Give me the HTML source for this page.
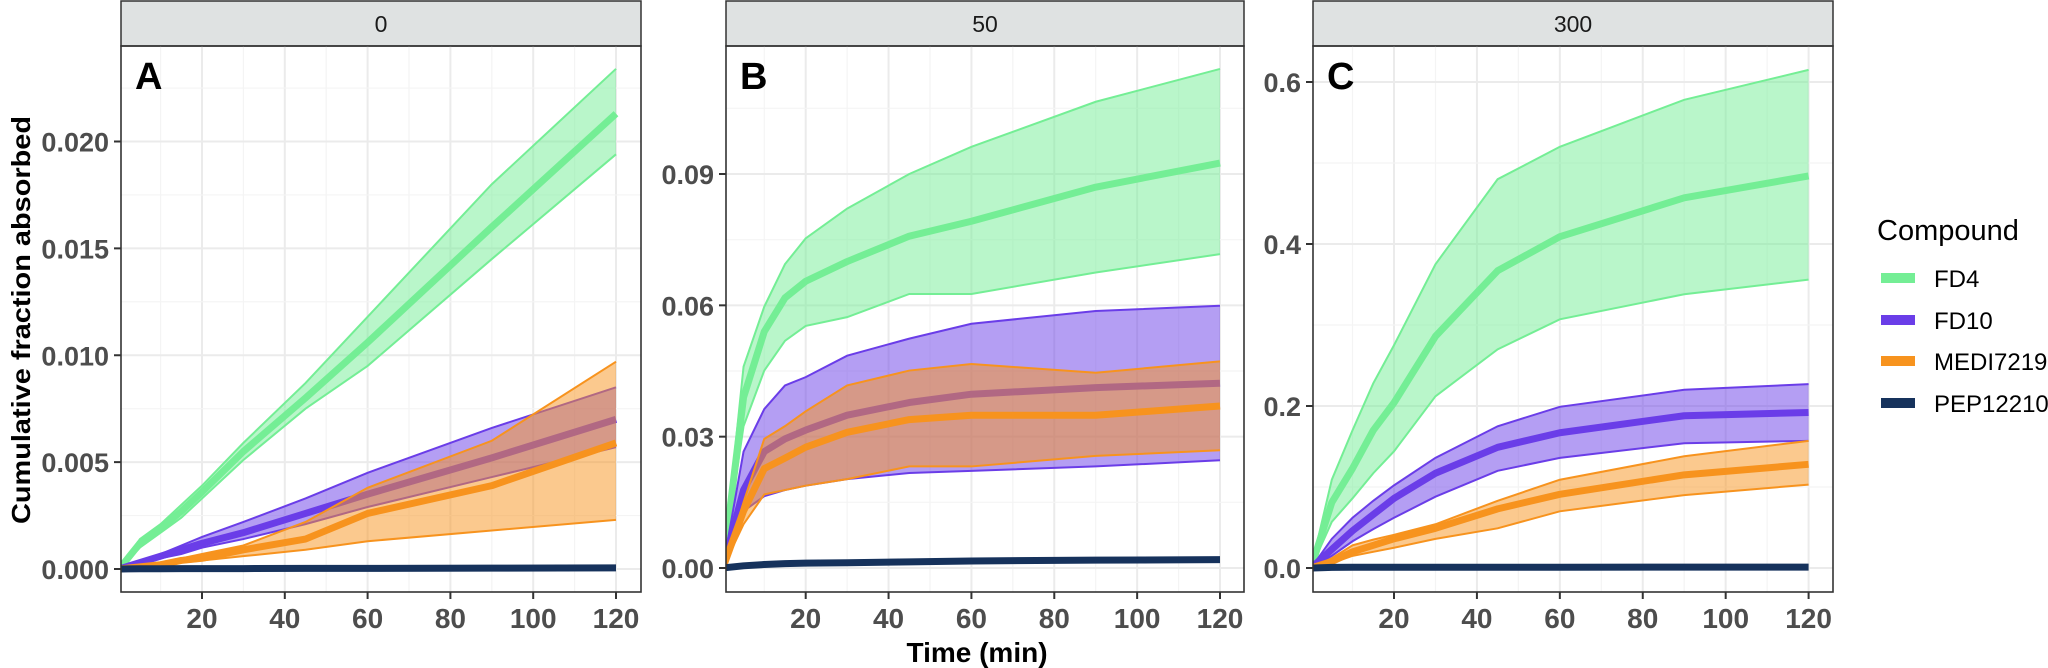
<!DOCTYPE html>
<html><head><meta charset="utf-8">
<style>
html,body{margin:0;padding:0;background:#fff;}
svg{display:block;font-family:"Liberation Sans",Arial,sans-serif;}
</style></head>
<body>
<svg id="chart" width="2048" height="668" viewBox="0 0 2048 668" xmlns="http://www.w3.org/2000/svg">
  <text transform="translate(30,320) rotate(-90)" text-anchor="middle" font-size="26" font-weight="bold" fill="#000" textLength="408" lengthAdjust="spacingAndGlyphs">Cumulative fraction absorbed</text>
  <text x="977" y="662" text-anchor="middle" font-size="28" font-weight="bold" fill="#000">Time (min)</text>
  <g>
    <text x="1877" y="240" font-size="29" fill="#000">Compound</text>
    <rect x="1881" y="273" width="34" height="10" fill="#74ee95"/>
    <text x="1934" y="287" font-size="24" fill="#000">FD4</text>
    <rect x="1881" y="315" width="34" height="10" fill="#6a3de8"/>
    <text x="1934" y="329" font-size="24" fill="#000">FD10</text>
    <rect x="1881" y="356" width="34" height="10" fill="#f7931e"/>
    <text x="1934" y="370" font-size="24" fill="#000">MEDI7219</text>
    <rect x="1881" y="398" width="34" height="10" fill="#16325c"/>
    <text x="1934" y="412" font-size="24" fill="#000">PEP12210</text>
  </g>
</svg>
<script>
const times = [0,5,10,15,20,30,45,60,90,120];
const xTicks = [20,40,60,80,100,120];
const stripLabels = ["0","50","300"];
const panelLetters = ["A","B","C"];
const yTicksA = [0,0.005,0.010,0.015,0.020];
const yTickLabelsA = ["0.000","0.005","0.010","0.015","0.020"];
const yTicksB = [0,0.03,0.06,0.09];
const yTickLabelsB = ["0.00","0.03","0.06","0.09"];
const yTicksC = [0,0.2,0.4,0.6];
const yTickLabelsC = ["0.0","0.2","0.4","0.6"];

// Panel A (dose 0)
const aFD4Mean = [0,0.0012,0.0019,0.0027,0.0036,0.0055,0.0080,0.0106,0.0160,0.0213];
const aFD4Hi   = [0,0.0014,0.0021,0.0030,0.0039,0.0059,0.0087,0.0118,0.0180,0.0234];
const aFD4Lo   = [0,0.0010,0.0017,0.0024,0.0033,0.0051,0.0075,0.0095,0.0145,0.0194];
const aFD10Mean= [0,0.0003,0.0006,0.0009,0.0012,0.0017,0.0026,0.0035,0.0052,0.0070];
const aFD10Hi  = [0,0.0004,0.0007,0.0011,0.0015,0.0022,0.0033,0.0045,0.0066,0.0085];
const aFD10Lo  = [0,0.0002,0.0005,0.0007,0.0010,0.0014,0.0021,0.0029,0.0043,0.0057];
const aMEDIMean= [0,0.0001,0.0002,0.0004,0.0005,0.0009,0.0014,0.0026,0.0039,0.0059];
const aMEDIHi  = [0,0.0001,0.0003,0.0005,0.0007,0.0011,0.0022,0.0038,0.0060,0.0097];
const aMEDILo  = [0,0.0001,0.0002,0.0003,0.0004,0.0006,0.0009,0.0013,0.0018,0.0023];
const aPEPMean = [0,0.00001,0.00001,0.00002,0.00002,0.00002,0.00003,0.00003,0.00004,0.00005];

// Panel B (dose 50)
const bFD4Mean = [0,0.039,0.054,0.0617,0.0655,0.070,0.0758,0.0792,0.087,0.0925];
const bFD4Hi   = [0,0.046,0.0597,0.0694,0.0753,0.0821,0.090,0.0962,0.1065,0.114];
const bFD4Lo   = [0,0.0324,0.0451,0.0519,0.0553,0.0573,0.0626,0.0626,0.0675,0.0717];
const bFD10Mean= [0,0.0178,0.0266,0.0295,0.0315,0.0349,0.0378,0.0397,0.0412,0.0422];
const bFD10Hi  = [0,0.0266,0.0363,0.0417,0.0436,0.0485,0.0524,0.0558,0.0587,0.0599];
const bFD10Lo  = [0,0.013,0.0164,0.0178,0.0188,0.0203,0.0217,0.0222,0.0232,0.0246];
const bMEDIMean= [0,0.013,0.0227,0.0251,0.0276,0.031,0.0339,0.0349,0.0349,0.037];
const bMEDIHi  = [0,0.015,0.0295,0.0324,0.0358,0.0417,0.0451,0.0466,0.0446,0.0472];
const bMEDILo  = [0,0.010,0.0168,0.0178,0.0188,0.0203,0.0232,0.0232,0.0256,0.0269];
const bPEPMean = [0,0.0005,0.0008,0.0010,0.0011,0.0012,0.0014,0.0016,0.0018,0.0019];

// Panel C (dose 300)
const cFD4Mean = [0,0.081,0.123,0.17,0.204,0.286,0.367,0.409,0.457,0.484];
const cFD4Hi   = [0,0.109,0.17,0.228,0.275,0.375,0.48,0.52,0.578,0.615];
const cFD4Lo   = [0,0.057,0.086,0.117,0.144,0.212,0.27,0.307,0.338,0.356];
const cFD10Mean= [0,0.023,0.046,0.066,0.086,0.117,0.149,0.167,0.188,0.192];
const cFD10Hi  = [0,0.036,0.062,0.083,0.102,0.136,0.175,0.199,0.22,0.227];
const cFD10Lo  = [0,0.015,0.033,0.048,0.062,0.088,0.12,0.136,0.154,0.157];
const cMEDIMean= [0,0.008,0.02,0.028,0.036,0.049,0.073,0.091,0.115,0.128];
const cMEDIHi  = [0,0.012,0.028,0.035,0.041,0.054,0.083,0.109,0.138,0.157];
const cMEDILo  = [0,0.006,0.015,0.02,0.025,0.036,0.049,0.07,0.09,0.103];
const cPEPMean = [0,0.0008,0.0009,0.001,0.001,0.001,0.001,0.001,0.0011,0.0011];

const NS = "http://www.w3.org/2000/svg";
const svg = document.getElementById("chart");
function mk(tag, attrs, parent){
  const e = document.createElementNS(NS, tag);
  for (const k in attrs) e.setAttribute(k, attrs[k]);
  (parent||svg).appendChild(e);
  return e;
}
const colors = {FD4:"#74ee95", FD10:"#6a3de8", MEDI:"#f7931e", PEP:"#16325c"};
const panels = [
  {left:121, right:641, x20:202, x120:616, y0:569, yTop:0.020, yTopPx:141.5, ticks:yTicksA, labels:yTickLabelsA,
   series:[["FD4",aFD4Mean,aFD4Hi,aFD4Lo],["FD10",aFD10Mean,aFD10Hi,aFD10Lo],["MEDI",aMEDIMean,aMEDIHi,aMEDILo],["PEP",aPEPMean,null,null]]},
  {left:726, right:1244, x20:805.7, x120:1220, y0:568, yTop:0.09, yTopPx:174, ticks:yTicksB, labels:yTickLabelsB,
   series:[["FD4",bFD4Mean,bFD4Hi,bFD4Lo],["FD10",bFD10Mean,bFD10Hi,bFD10Lo],["MEDI",bMEDIMean,bMEDIHi,bMEDILo],["PEP",bPEPMean,null,null]]},
  {left:1313, right:1833, x20:1394, x120:1808.6, y0:568, yTop:0.6, yTopPx:82, ticks:yTicksC, labels:yTickLabelsC,
   series:[["FD4",cFD4Mean,cFD4Hi,cFD4Lo],["FD10",cFD10Mean,cFD10Hi,cFD10Lo],["MEDI",cMEDIMean,cMEDIHi,cMEDILo],["PEP",cPEPMean,null,null]]}
];
const TOP = 46, BOTTOM = 592;

panels.forEach((p, i) => {
  const g = mk("g", {});
  
  
  const sx = t => p.x20 + (t - 20) * (p.x120 - p.x20) / 100;
  const sy = v => p.y0 - v * (p.y0 - p.yTopPx) / p.yTop;
  const cid = "clip" + i;
  const defs = mk("defs", {}, g);
  const cp = mk("clipPath", {id: cid}, defs);
  mk("rect", {x:p.left, y:TOP, width:p.right-p.left, height:BOTTOM-TOP}, cp);

  // strip
  const strip = mk("rect", {x:p.left, y:1, width:p.right-p.left, height:TOP-1, fill:"#dfe2e2", stroke:"#333", "stroke-width":1.5}, g);
  
  
  const st = mk("text", {x:(p.left+p.right)/2, y:32, "text-anchor":"middle", "font-size":23, fill:"#1a1a1a"}, g);
  st.textContent = stripLabels[i];
  
  

  // grid
  const grid = mk("g", {}, g);
  
  
  for (let t = 10; t <= 120; t += 10) {
    const major = t % 20 === 0;
    mk("line", {x1:sx(t), x2:sx(t), y1:TOP, y2:BOTTOM, stroke: major ? "#ebebeb" : "#f4f4f4", "stroke-width": major ? 2 : 1.2}, grid);
  }
  const step = p.ticks[1] - p.ticks[0];
  for (let k = 0; k < p.ticks.length; k++) {
    mk("line", {x1:p.left, x2:p.right, y1:sy(p.ticks[k]), y2:sy(p.ticks[k]), stroke:"#ebebeb", "stroke-width":2}, grid);
    const mv = p.ticks[k] + step/2;
    if (sy(mv) > TOP) mk("line", {x1:p.left, x2:p.right, y1:sy(mv), y2:sy(mv), stroke:"#f4f4f4", "stroke-width":1.2}, grid);
  }

  // series
  const sg = mk("g", {"clip-path":"url(#"+cid+")"}, g);
  p.series.forEach(s => {
    const [name, mean, hi, lo] = s;
    const col = colors[name];
    if (hi) {
      let d = "M" + times.map((t,j) => sx(t)+","+sy(hi[j])).join("L");
      for (let j = times.length-1; j >= 0; j--) d += "L" + sx(times[j]) + "," + sy(lo[j]);
      d += "Z";
      const band = mk("path", {d:d, fill:col, "fill-opacity":0.5, stroke:"none"}, sg);
      
      
      [hi, lo].forEach(arr => {
        const el = mk("polyline", {points: times.map((t,j) => sx(t)+","+sy(arr[j])).join(" "), fill:"none", stroke:col, "stroke-width":2}, sg);
        
        
      });
    }
    const ln = mk("polyline", {points: times.map((t,j) => sx(t)+","+sy(mean[j])).join(" "), fill:"none", stroke:col, "stroke-width":7, "stroke-linejoin":"round"}, sg);
    
    
  });

  // panel border
  mk("rect", {x:p.left, y:TOP, width:p.right-p.left, height:BOTTOM-TOP, fill:"none", stroke:"#333", "stroke-width":1.6}, g);

  // letter
  const lt = mk("text", {x:p.left+14, y:89, "font-size":38, "font-weight":"bold", fill:"#000"}, g);
  lt.textContent = panelLetters[i];
  
  

  // y axis ticks
  p.ticks.forEach((v, k) => {
    mk("line", {x1:p.left-7, x2:p.left, y1:sy(v), y2:sy(v), stroke:"#333", "stroke-width":2}, g);
    const tl = mk("text", {x:p.left-12, y:sy(v)+10, "text-anchor":"end", "font-size":27, "font-weight":"bold", fill:"#4d4d4d"}, g);
    tl.textContent = p.labels[k];
    
    
  });
  // x axis ticks
  xTicks.forEach(t => {
    mk("line", {x1:sx(t), x2:sx(t), y1:BOTTOM, y2:BOTTOM+7, stroke:"#333", "stroke-width":2}, g);
    const tl = mk("text", {x:sx(t), y:628, "text-anchor":"middle", "font-size":28, "font-weight":"bold", fill:"#4d4d4d"}, g);
    tl.textContent = String(t);
    
    
  });
});
</script>
</body></html>
